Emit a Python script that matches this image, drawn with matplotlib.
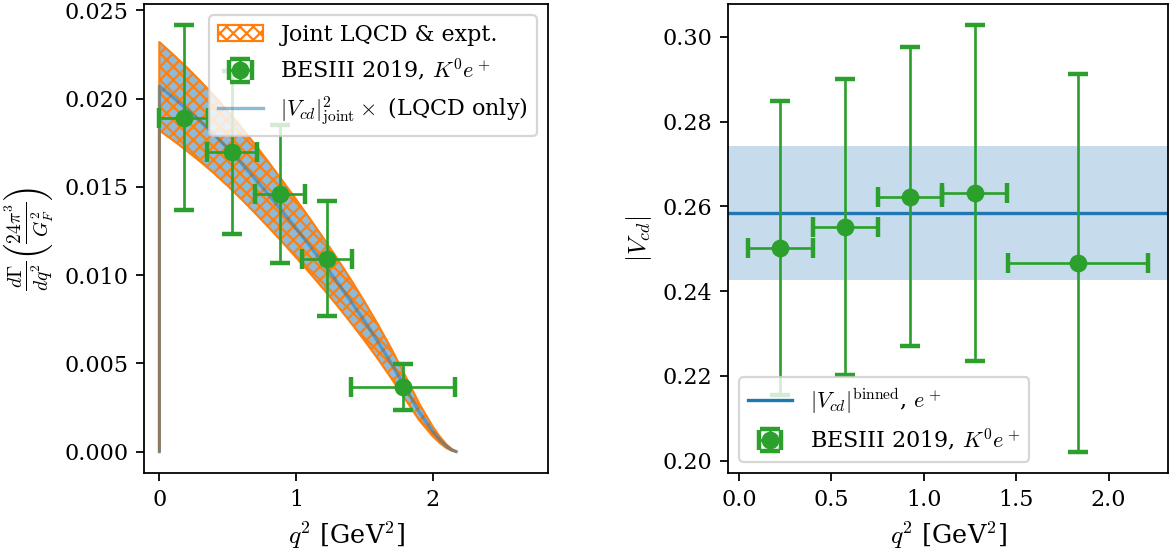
import matplotlib
matplotlib.use("Agg")
import matplotlib.pyplot as plt

plt.rcParams['font.family'] = 'serif'
plt.rcParams['mathtext.fontset'] = 'cm'
plt.rcParams['font.size'] = 10
plt.rcParams['axes.labelsize'] = 11.5

# --- left panel: differential rate ---
q2_pts = [0.177, 0.529, 0.883, 1.229, 1.784]
q2_pts_err = [0.18, 0.182, 0.184, 0.182, 0.38]
rate_pts = [0.01892, 0.01695, 0.01461, 0.01094, 0.00364]
rate_err = [0.00523, 0.00464, 0.0039, 0.00326, 0.0013]

q2_band = [0.0, 0.0, 0.1, 0.2, 0.3, 0.4, 0.5, 0.6, 0.7, 0.8, 0.9, 1.0, 1.1, 1.2,
           1.3, 1.4, 1.5, 1.6, 1.7, 1.8, 1.9, 2.0, 2.05, 2.1, 2.14, 2.173]
band_hi = [0.0, 0.0232, 0.0225, 0.02177, 0.02099, 0.02017, 0.0193, 0.01837,
           0.0174, 0.01639, 0.01535, 0.01429, 0.01321, 0.0121, 0.01095, 0.00976,
           0.00851, 0.00719, 0.00579, 0.00429, 0.00274, 0.00142, 0.00087, 0.00041,
           0.00014, 0.0]
band_lo = [0.0, 0.0182, 0.01764, 0.01705, 0.01643, 0.01577, 0.01506, 0.01431,
           0.01352, 0.01271, 0.01187, 0.01101, 0.01013, 0.00922, 0.00829, 0.00732,
           0.00631, 0.00525, 0.00413, 0.00297, 0.0018, 0.00088, 0.00051, 0.00021,
           0.00006, 0.0]
band_mid = [0.0, 0.0207, 0.02007, 0.01941, 0.01871, 0.01797, 0.01718, 0.01634,
            0.01546, 0.01455, 0.01361, 0.01265, 0.01167, 0.01066, 0.00962, 0.00854,
            0.00741, 0.00622, 0.00496, 0.00363, 0.00227, 0.00115, 0.00069, 0.00031,
            0.0001, 0.0]

# --- right panel: binned |Vcd| ---
q2_bins = [0.224, 0.575, 0.925, 1.276, 1.833]
q2_bins_err = [0.175, 0.175, 0.175, 0.175, 0.38]
vcd_pts = [0.2502, 0.2551, 0.2623, 0.2631, 0.2466]
vcd_err = [0.0347, 0.035, 0.0353, 0.0396, 0.0445]
vcd_mean = 0.2584
vcd_sigma = 0.0158

fig = plt.figure(figsize=(1172 / 160, 556 / 160), dpi=160)
ax1 = fig.add_axes([0.1229, 0.1493, 0.3447, 0.8435])
ax2 = fig.add_axes([0.6212, 0.1493, 0.3754, 0.8435])

ax1.fill_between(q2_band, band_lo, band_hi, color='C0', alpha=0.5, linewidth=0)
h_joint = ax1.fill_between(q2_band, band_lo, band_hi, facecolor='none',
                           edgecolor='C1', hatch='xxxx', linewidth=1.0,
                           label='Joint LQCD & expt.')
h_line, = ax1.plot(q2_band, band_mid, color='C0', alpha=0.5,
                   label=r'$|V_{cd}|^2_{\rm joint}\times$ (LQCD only)')
h_exp = ax1.errorbar(q2_pts, rate_pts, xerr=q2_pts_err, yerr=rate_err, fmt='o',
                     color='C2', ms=7, capsize=4.5, capthick=2, elinewidth=1.2,
                     label=r'BESIII 2019, $K^0e^+$')
ax1.set_xlim(-0.112, 2.844)
ax1.set_xticks([0, 1, 2])
ax1.set_xlabel(r'$q^2$ [GeV$^2$]')
ax1.set_ylabel(r'$\frac{d\Gamma}{dq^2}\left(\frac{24\pi^3}{G_F^2}\right)$', fontsize=12.5)
ax1.legend([h_joint, h_exp, h_line],
           [h_joint.get_label(), h_exp.get_label(), h_line.get_label()],
           loc='upper right')

ax2.axhspan(vcd_mean - vcd_sigma, vcd_mean + vcd_sigma, color='C0', alpha=0.25,
            linewidth=0)
ax2.axhline(vcd_mean, color='C0', label=r'$|V_{cd}|^{\rm binned}$, $e^+$')
ax2.errorbar(q2_bins, vcd_pts, xerr=q2_bins_err, yerr=vcd_err, fmt='o',
             color='C2', ms=7, capsize=4.5, capthick=2, elinewidth=1.2,
             label=r'BESIII 2019, $K^0e^+$')
ax2.set_xlabel(r'$q^2$ [GeV$^2$]')
ax2.set_ylabel(r'$|V_{cd}|$')
ax2.legend(loc='lower left')

fig.savefig('out.png', dpi=160)
